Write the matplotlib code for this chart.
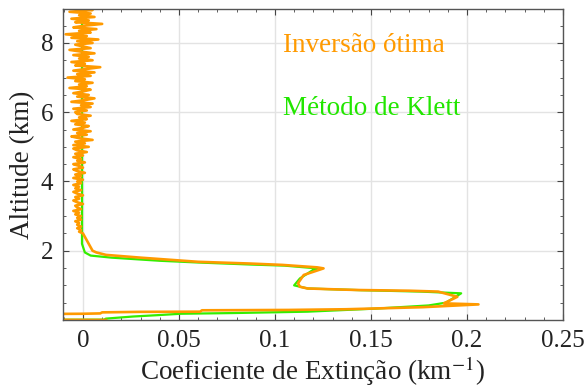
import matplotlib
matplotlib.use("Agg")
import matplotlib.pyplot as plt
from matplotlib.ticker import MultipleLocator
import numpy as np

plt.rcParams['font.family'] = ['Liberation Serif', 'DejaVu Serif']
plt.rcParams['mathtext.fontset'] = 'stix'

# Klett method (smooth), extinction km^-1 vs altitude km
klett_ext = [-0.030, 0.011, 0.012, 0.026, 0.039, 0.051, 0.078, 0.117, 0.153, 0.180,
             0.189, 0.192, 0.197, 0.176, 0.145, 0.117, 0.110, 0.113, 0.120, 0.122,
             0.105, 0.088, 0.060, 0.040, 0.015, 0.004, 0.001, -0.0005, -0.0005, -0.0005]
klett_alt = [0.005, 0.01, 0.04, 0.10, 0.14, 0.18, 0.20, 0.24, 0.33, 0.42,
             0.50, 0.60, 0.77, 0.82, 0.86, 0.91, 1.00, 1.20, 1.45, 1.49,
             1.57, 1.60, 1.66, 1.71, 1.80, 1.86, 1.95, 2.20, 5.00, 9.00]

# optimal inversion, lower part (smooth)
otima_ext_low = [0.012, -0.030, -0.030, 0.000, 0.009, 0.010, 0.030, 0.061, 0.062, 0.107,
                 0.137, 0.177, 0.206, 0.188, 0.195, 0.185, 0.170, 0.144, 0.134, 0.117,
                 0.113, 0.112, 0.115, 0.1253, 0.122, 0.104, 0.087, 0.060, 0.030, 0.012,
                 0.007, 0.005, 0.003, 0.001]
otima_alt_low = [0.00, 0.01, 0.17, 0.18, 0.19, 0.22, 0.235, 0.24, 0.28, 0.29,
                 0.31, 0.37, 0.45, 0.48, 0.67, 0.82, 0.845, 0.865, 0.88, 0.91,
                 0.96, 1.06, 1.30, 1.49, 1.52, 1.59, 1.63, 1.68, 1.80, 1.88,
                 1.95, 2.00, 2.20, 2.40]

# optimal inversion, upper noisy part, read every 0.05 km from 2.5 to 9.0 km (units 1e-3 km^-1)
otima_alt_high = np.arange(2.5, 9.001, 0.05)
otima_ext_high = [
    0, -2, -1, -3, -1, -3, -2, -4, -1, -3,
    -1, -4, -2, -5, -1, -3, -4, 0, -3, -5, -2, -4, 0, -3, -5, -1, -4, -2, -5, -1,
    -3, 0, -5, -1, -4, 1, -3, -5, 0, -2, -5, 1, -3, -1, -5, 0, -4, 2, -3, -5,
    3, -5, 1, -4, 5, -2, -6, 2, -3, 4, -5, 0, 3, -4, 1, -6, 2, -2, 4, -3,
    -4, 2, -5, 4, -1, 5, -6, 1, 6, -3, 3, -5, 0, 4, -7, 2, -2, 5, -4, 1,
    -8, 4, -3, 6, -5, 2, 9, -4, 1, -6, 5, -2, 3, -5, 6, -1, -7, 4, 0, -4,
    5, -3, 8, -6, 2, -9, 4, -2, 7, -5, 1, 10, -4, 3, -6, 6, -2, 4, -7, 5, 2]

otima_ext = np.concatenate([otima_ext_low, np.array(otima_ext_high) / 1000.0])
otima_alt = np.concatenate([otima_alt_low, otima_alt_high])

orange = '#FF9A00'
green = '#33EE00'

fig = plt.figure(figsize=(5.87, 3.92), dpi=100)
ax = fig.add_axes([0.1073, 0.1837, 0.8517, 0.7933])

ax.plot(klett_ext, klett_alt, color=green, lw=1.6)
ax.plot(otima_ext, otima_alt, color=orange, lw=1.9)

ax.set_xlim(-0.0104, 0.25)
ax.set_ylim(0, 8.98)
ax.set_xticks([0, 0.05, 0.1, 0.15, 0.2, 0.25])
ax.set_xticklabels(["0", "0.05", "0.1", "0.15", "0.2", "0.25"])
ax.set_yticks([2, 4, 6, 8])
ax.xaxis.set_minor_locator(MultipleLocator(0.01))
ax.yaxis.set_minor_locator(MultipleLocator(0.5))
ax.grid(True, which='major', color='#e3e3e3', lw=1.0)
ax.set_axisbelow(True)
ax.tick_params(which='both', direction='in', top=True, right=True, color='#444444',
               labelsize=18, labelcolor='#222222')
ax.tick_params(which='major', length=4, pad=7)
ax.tick_params(which='minor', length=2.5)
for s in ax.spines.values():
    s.set_color('#555555')
    s.set_linewidth(1.0)

ax.set_xlabel("Coeficiente de Extinção (km$^{-1}$)", fontsize=19.5, color='#222222', labelpad=2)
ax.set_ylabel("Altitude (km)", fontsize=19.5, color='#222222', labelpad=4)

ax.text(0.1043, 7.93, "Inversão ótima", color=orange, fontsize=19.5, va='center', ha='left')
ax.text(0.1043, 6.12, "Método de Klett", color='#22E600', fontsize=19.5, va='center', ha='left')

fig.savefig("out.png", dpi=100)
